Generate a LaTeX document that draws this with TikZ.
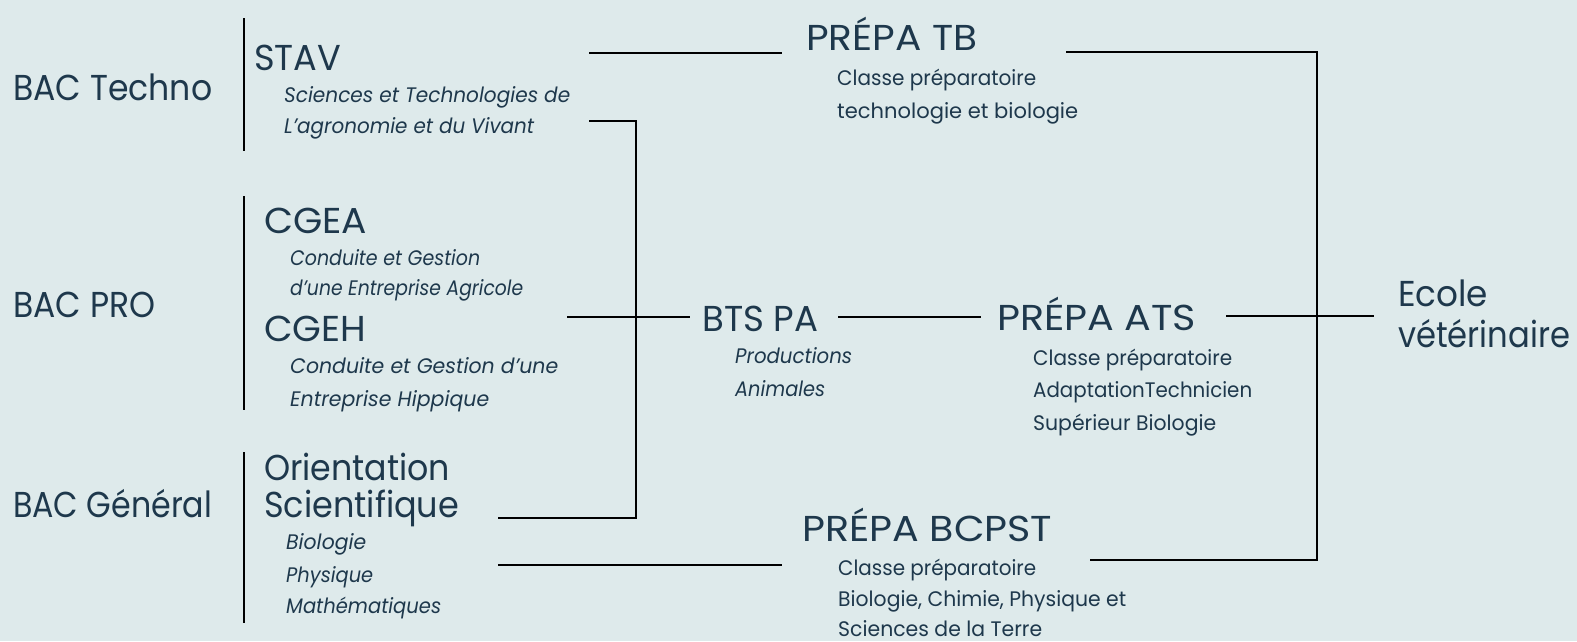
\documentclass[tikz,border=0pt]{standalone}
\usepackage{fontspec}
\setmainfont{Poppins}
\definecolor{bgc}{RGB}{222,234,235}
\definecolor{ink}{RGB}{30,56,76}
\newcommand\fitto[2]{\resizebox{#1pt}{\height}{#2}}
\tikzset{
  big/.style={anchor=base west, inner sep=0pt, text=ink, font=\fontsize{36}{36}\selectfont},
  sub/.style={anchor=base west, inner sep=0pt, text=ink, font=\fontsize{21}{21}\selectfont\itshape},
  subup/.style={anchor=base west, inner sep=0pt, text=ink, font=\fontsize{21}{21}\selectfont},
  link/.style={line width=2.6pt, black},
}
\begin{document}
\begin{tikzpicture}[x=1pt, y=-1pt]
\fill[bgc] (0,0) rectangle (1577,641);
\useasboundingbox (0,0) rectangle (1577,641);
% left column
\node[big] (bactech) at (13,100) {\fitto{199}{BAC Techno}};
\node[big] (bacpro) at (13,317) {\fitto{142}{BAC PRO}};
\node[big] (bacgen) at (13,517) {\fitto{199}{BAC Général}};
% bars
\coordinate (b1t) at (244,18); \coordinate (b1b) at (244,151);
\coordinate (b2t) at (244,196); \coordinate (b2b) at (244,410);
\coordinate (b3t) at (244,452); \coordinate (b3b) at (244,623);
\draw[link] (b1t) -- (b1b);
\draw[link] (b2t) -- (b2b);
\draw[link] (b3t) -- (b3b);
% second column
\node[big] (stav) at (254,70) {\fitto{87}{STAV}};
\node[sub] (stav1) at (284,102) {\fitto{286}{Sciences et Technologies de}};
\node[sub] (stav2) at (284,133) {\fitto{250}{L'agronomie et du Vivant}};
\node[big] (cgea) at (264,233) {\fitto{103}{CGEA}};
\node[sub] (cgea1) at (290,265) {\fitto{190}{Conduite et Gestion}};
\node[sub] (cgea2) at (290,295) {\fitto{233}{d'une Entreprise Agricole}};
\node[big] (cgeh) at (264,341) {\fitto{102}{CGEH}};
\node[sub] (cgeh1) at (290,373) {\fitto{268}{Conduite et Gestion d'une}};
\node[sub] (cgeh2) at (290,406) {\fitto{199}{Entreprise Hippique}};
\node[big] (ori1) at (264,480) {\fitto{186}{Orientation}};
\node[big] (ori2) at (264,517) {\fitto{195}{Scientifique}};
\node[sub] (ori3) at (286,549) {\fitto{80}{Biologie}};
\node[sub] (ori4) at (286,582) {\fitto{87}{Physique}};
\node[sub] (ori5) at (286,613) {\fitto{155}{Mathématiques}};
% middle
\node[big] (bts) at (702,331) {\fitto{116}{BTS PA}};
\node[sub] (bts1) at (735,363) {\fitto{117}{Productions}};
\node[sub] (bts2) at (735,396) {\fitto{90}{Animales}};
\node[big] (tb) at (806,50) {\fitto{171}{PRÉPA TB}};
\node[subup] (tb1) at (837,85) {\fitto{199}{Classe préparatoire}};
\node[subup] (tb2) at (837,118) {\fitto{241}{technologie et biologie}};
\node[big] (ats) at (997,330) {\fitto{199}{PRÉPA ATS}};
\node[subup] (ats1) at (1033,365) {\fitto{199}{Classe préparatoire}};
\node[subup] (ats2) at (1033,397) {\fitto{219}{AdaptationTechnicien}};
\node[subup] (ats3) at (1033,430) {\fitto{183}{Supérieur Biologie}};
\node[big] (bcpst) at (802,541) {\fitto{250}{PRÉPA BCPST}};
\node[subup] (bcpst1) at (838,575) {\fitto{198}{Classe préparatoire}};
\node[subup] (bcpst2) at (838,606) {\fitto{288}{Biologie, Chimie, Physique et}};
\node[subup] (bcpst3) at (838,636) {\fitto{204}{Sciences de la Terre}};
\node[big] (ecole1) at (1398,306) {\fitto{90}{Ecole}};
\node[big] (ecole2) at (1398,347) {\fitto{172}{vétérinaire}};
% connectors
\coordinate (stavR) at (589,53); \coordinate (tbL) at (782,53);
\draw[link] (stavR) -- (tbL);
\coordinate (stavR2) at (589,121); \coordinate (joinL) at (636,518); \coordinate (oriR) at (498,518);
\draw[link] (stavR2) -| (joinL) -- (oriR);
\coordinate (proR) at (567,317); \coordinate (btsL) at (690,317);
\draw[link] (proR) -- (btsL);
\coordinate (btsR) at (838,317); \coordinate (atsL) at (981,317);
\draw[link] (btsR) -- (atsL);
\coordinate (atsR) at (1226,316); \coordinate (ecoleL) at (1374,316);
\draw[link] (atsR) -- (ecoleL);
\coordinate (tbR) at (1066,52); \coordinate (joinR) at (1317,560); \coordinate (bcpstR) at (1090,560);
\draw[link] (tbR) -| (joinR) -- (bcpstR);
\coordinate (oriR2) at (498,565); \coordinate (bcpstL) at (782,565);
\draw[link] (oriR2) -- (bcpstL);
\end{tikzpicture}
\end{document}
